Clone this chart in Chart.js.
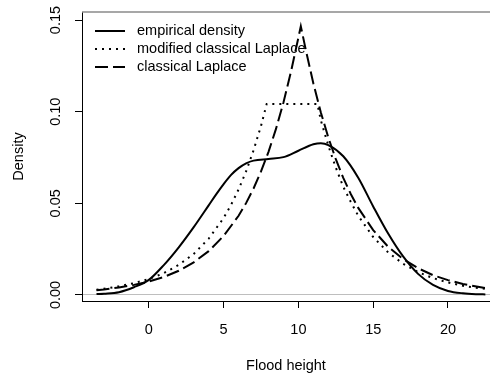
<!DOCTYPE html>
<html>
<head>
<meta charset="utf-8">
<script src="https://cdn.jsdelivr.net/npm/chart.js@4.4.1/dist/chart.umd.min.js"></script>
<style>
  html, body { margin: 0; padding: 0; background: #fff; }
  canvas { display: block; }
</style>
</head>
<body>
<canvas id="density-chart" width="490" height="377"></canvas>
<script>
// values
const empX = [-3.5, -3, -2, -1, 0, 1, 2, 3, 4, 4.5, 5, 5.5, 6, 6.5, 7, 8, 9, 10, 11, 11.5, 12, 13, 14, 15, 16, 17, 18, 19, 20, 21, 22, 22.5];
const empY = [0.0005, 0.0007, 0.0015, 0.0042, 0.0082, 0.0163, 0.0260, 0.0370, 0.0489, 0.0549, 0.0605, 0.0655, 0.0692, 0.0718, 0.0733, 0.0742, 0.0752, 0.0787, 0.0822, 0.0828, 0.0818, 0.0757, 0.0640, 0.0483, 0.0335, 0.0210, 0.0115, 0.0055, 0.0022, 0.0009, 0.0004, 0.0003];

const modX = [-3.5, -3, -2, -1, 0, 1, 2, 3, 4, 5, 5.5, 6, 6.5, 7, 7.5, 7.88, 11.27, 11.5, 12, 12.5, 13, 13.5, 14, 15, 16, 17, 18, 19, 20, 21, 22, 22.5];
const modY = [0.0029, 0.0034, 0.0047, 0.0064, 0.0087, 0.0119, 0.0164, 0.0224, 0.0307, 0.0420, 0.0492, 0.0576, 0.0674, 0.0789, 0.0923, 0.1042, 0.1042, 0.0953, 0.0815, 0.0695, 0.0590, 0.0508, 0.0432, 0.0316, 0.0232, 0.0170, 0.0125, 0.0092, 0.0068, 0.0050, 0.0038, 0.0033];

const lapX = [-3.5, -3, -2, -1, 0, 1, 2, 3, 4, 5, 6, 6.5, 7, 7.5, 8, 8.5, 9, 9.5, 10, 10.16, 10.5, 11, 11.5, 12, 12.5, 13, 13.5, 14, 15, 16, 17, 18, 19, 20, 21, 22, 22.5];
const lapY = [0.0026, 0.0030, 0.0041, 0.0055, 0.0073, 0.0098, 0.0132, 0.0178, 0.0239, 0.0322, 0.0432, 0.0501, 0.0581, 0.0674, 0.0781, 0.0906, 0.1050, 0.1217, 0.1405, 0.1466, 0.1335, 0.1154, 0.0996, 0.0859, 0.0741, 0.0639, 0.0551, 0.0475, 0.0354, 0.0263, 0.0196, 0.0146, 0.0108, 0.0081, 0.0060, 0.0045, 0.0038];

const seriesNames = ['empirical density', 'modified classical Laplace', 'classical Laplace'];
const xTicks = [0, 5, 10, 15, 20];
const yTicks = [0.00, 0.05, 0.10, 0.15];
const yTickLabels = ['0.00', '0.05', '0.10', '0.15'];

const FONT = 'Liberation Sans, Arial, Helvetica, sans-serif';
const dashes = [[], [2, 5], [13, 5]];

function toPoints(xs, ys) {
    return xs.map((x, i) => ({x: x, y: ys[i]}));
}

// R style extras: rotated y tick labels, gray top line, legend in the corner
const rDecor = {
    id: 'rDecor',
    beforeDatasetsDraw(chart) {
        const {ctx, chartArea} = chart;
        ctx.save();
        ctx.strokeStyle = '#8a8a8a';
        ctx.lineWidth = 1.5;
        ctx.beginPath();
        ctx.moveTo(chartArea.left, chartArea.top);
        ctx.lineTo(chartArea.right, chartArea.top);
        ctx.stroke();
        ctx.restore();
    },
    afterDraw(chart) {
        const {ctx} = chart;
        const yScale = chart.scales.y;
        ctx.save();
        ctx.fillStyle = '#000';
        ctx.font = '14.5px ' + FONT;
        ctx.textAlign = 'center';
        ctx.textBaseline = 'middle';
        yTicks.forEach((v, i) => {
            const py = yScale.getPixelForValue(v);
            ctx.save();
            ctx.translate(56, py);
            ctx.rotate(-Math.PI / 2);
            ctx.fillText(yTickLabels[i], 0, 0);
            ctx.restore();
        });

        // legend
        const rows = [31, 49, 67];
        ctx.textAlign = 'left';
        chart.data.datasets.forEach((ds, i) => {
            ctx.strokeStyle = '#000';
            ctx.lineWidth = 2;
            ctx.setLineDash(ds.borderDash);
            ctx.beginPath();
            ctx.moveTo(95, rows[i]);
            ctx.lineTo(125, rows[i]);
            ctx.stroke();
            ctx.setLineDash([]);
            ctx.fillText(ds.label, 137, rows[i]);
        });
        ctx.restore();
    }
};

const ctx = document.getElementById('density-chart');

new Chart(ctx, {
    type: 'line',
    data: {
        datasets: [
            {label: seriesNames[0], data: toPoints(empX, empY), borderDash: dashes[0], cubicInterpolationMode: 'monotone'},
            {label: seriesNames[1], data: toPoints(modX, modY), borderDash: dashes[1], tension: 0},
            {label: seriesNames[2], data: toPoints(lapX, lapY), borderDash: dashes[2], tension: 0}
        ].map(ds => Object.assign(ds, {
            borderColor: '#000',
            borderWidth: 2,
            pointRadius: 0,
            fill: false
        }))
    },
    options: {
        responsive: false,
        animation: false,
        devicePixelRatio: 1,
        layout: {
            padding: {top: 12, right: 0, left: 0, bottom: 0}
        },
        plugins: {
            legend: {display: false},
            tooltip: {enabled: false}
        },
        scales: {
            x: {
                type: 'linear',
                min: -4.47,
                max: 22.81,
                afterBuildTicks: scale => {
                    scale.ticks = xTicks.map(v => ({value: v}));
                },
                afterFit: scale => {
                    scale.height = 76;
                },
                grid: {
                    drawOnChartArea: false,
                    tickLength: 7,
                    tickColor: '#000',
                    tickWidth: 1
                },
                border: {color: '#000', width: 1},
                ticks: {
                    color: '#000',
                    padding: 13,
                    maxRotation: 0,
                    font: {family: FONT, size: 14.5}
                },
                title: {
                    display: true,
                    text: 'Flood height',
                    color: '#000',
                    font: {family: FONT, size: 14.5},
                    padding: {top: 0, bottom: 2}
                }
            },
            y: {
                min: -0.0033,
                max: 0.1544,
                afterBuildTicks: scale => {
                    scale.ticks = yTicks.map(v => ({value: v}));
                },
                afterFit: scale => {
                    scale.width = 82;
                },
                grid: {
                    drawOnChartArea: true,
                    color: c => (c.tick && c.tick.value === 0 ? '#bebebe' : 'rgba(0,0,0,0)'),
                    tickLength: 7,
                    tickColor: '#000',
                    tickWidth: 1
                },
                border: {color: '#000', width: 1},
                ticks: {display: false},
                title: {
                    display: true,
                    text: 'Density',
                    color: '#000',
                    font: {family: FONT, size: 14.5},
                    padding: {top: 10, bottom: 0}
                }
            }
        }
    },
    plugins: [rDecor]
});
</script>
</body>
</html>
